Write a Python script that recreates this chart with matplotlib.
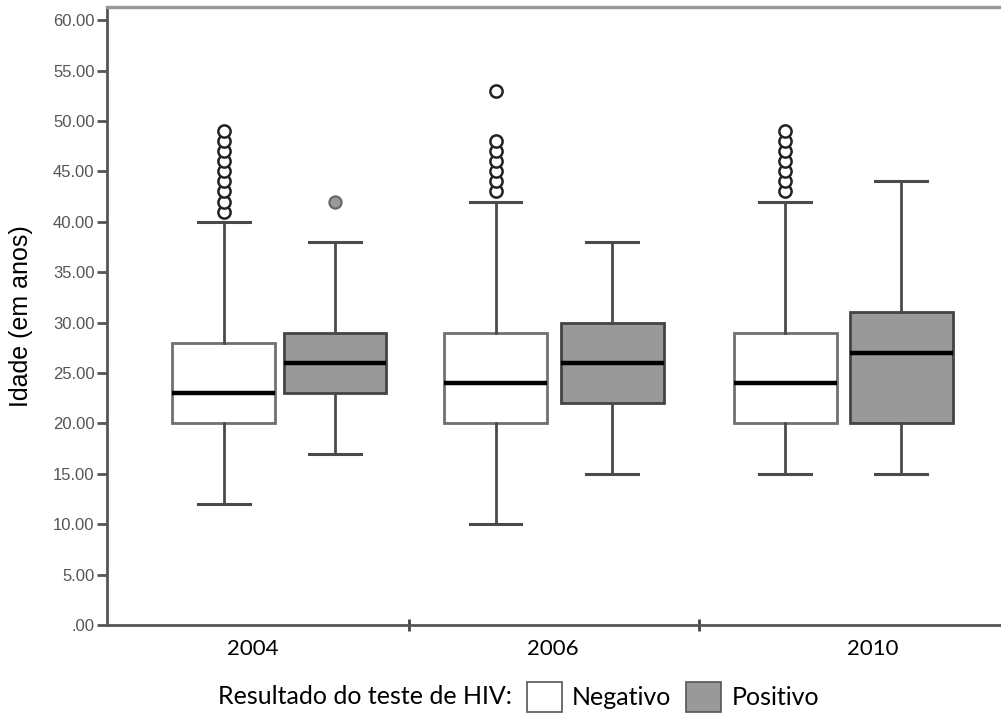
import numpy as np
import matplotlib
matplotlib.use("Agg")
import matplotlib.pyplot as plt
from matplotlib.patches import Patch

# values (age in years)
years = ["2004", "2006", "2010"]
groups = ["Negativo", "Positivo"]

neg_whislo = [12, 10, 15]
neg_q1 = [20, 20, 20]
neg_med = [23, 24, 24]
neg_q3 = [28, 29, 29]
neg_whishi = [40, 42, 42]
neg_fliers = [
    [41, 42, 43, 44, 45, 46, 47, 48, 49],
    [43, 44, 45, 46, 47, 48, 53],
    [43, 44, 45, 46, 47, 48, 49],
]

pos_whislo = [17, 15, 15]
pos_q1 = [23, 22, 20]
pos_med = [26, 26, 27]
pos_q3 = [29, 30, 31]
pos_whishi = [38, 38, 44]
pos_fliers = [[42], [], []]

yticks = np.arange(0, 61, 5)
ytick_labels = [".00"] + ["%.2f" % v for v in yticks[1:]]

# layout (category units, separators at 0.5 / 1.5)
neg_pos = [-0.138, 0.799, 1.797]
pos_pos = [0.245, 1.200, 2.197]
label_pos = [-0.04, 0.995, 2.10]
box_w = 0.355

fig = plt.figure(figsize=(10.01, 7.25), dpi=100)
ax = fig.add_axes([107 / 1001, 100 / 725, 1 - 107 / 1001, 618 / 725])


def stats(lo, q1, med, q3, hi, fl):
    return [dict(whislo=lo[i], q1=q1[i], med=med[i], q3=q3[i], whishi=hi[i],
                 fliers=fl[i]) for i in range(len(lo))]


edge = "#4a4a4a"
ax.bxp(stats(neg_whislo, neg_q1, neg_med, neg_q3, neg_whishi, neg_fliers),
       positions=neg_pos, widths=box_w, patch_artist=True, showfliers=True,
       boxprops=dict(facecolor="white", edgecolor="#707070", linewidth=2),
       medianprops=dict(color="black", linewidth=3.2),
       whiskerprops=dict(color=edge, linewidth=2),
       capprops=dict(color=edge, linewidth=2.2),
       flierprops=dict(marker="o", markersize=8.8, markerfacecolor="white",
                       markeredgecolor="#222222", markeredgewidth=1.8),
       capwidths=box_w / 2)
ax.bxp(stats(pos_whislo, pos_q1, pos_med, pos_q3, pos_whishi, pos_fliers),
       positions=pos_pos, widths=box_w, patch_artist=True, showfliers=True,
       boxprops=dict(facecolor="#999999", edgecolor="#444444", linewidth=2),
       medianprops=dict(color="black", linewidth=3.2),
       whiskerprops=dict(color=edge, linewidth=2),
       capprops=dict(color=edge, linewidth=2.2),
       flierprops=dict(marker="o", markersize=8.8, markerfacecolor="#999999",
                       markeredgecolor="#666666", markeredgewidth=1.5),
       capwidths=box_w / 2)

ax.set_xlim(-0.541, 2.541)
ax.set_ylim(0, 61.3)

ax.set_yticks(yticks)
ax.set_yticklabels(ytick_labels, fontfamily="Liberation Sans", fontsize=12,
                   color="#555555")
ax.tick_params(axis="y", length=7, width=2, color="#555555", pad=2)

ax.set_xticks(label_pos)
ax.set_xticklabels(years, fontfamily="Lato", fontsize=16)
ax.tick_params(axis="x", length=0, pad=10)
ax.set_xticks([0.5, 1.5], minor=True)
ax.tick_params(axis="x", which="minor", length=9, width=2, color="#444444",
               direction="inout")

ax.set_ylabel("Idade (em anos)", fontfamily="Liberation Sans", fontsize=18,
              labelpad=14)

for s in ["left", "bottom"]:
    ax.spines[s].set_color("#555555")
    ax.spines[s].set_linewidth(2)
ax.spines["top"].set_color("#999999")
ax.spines["top"].set_linewidth(2.5)
ax.spines["right"].set_visible(False)

fig.text(218 / 1001, 1 - 697 / 725, "Resultado do teste de HIV:",
         fontfamily="Lato", fontsize=18, va="center", ha="left")
handles = [Patch(facecolor="white", edgecolor="#555555", linewidth=1.2),
           Patch(facecolor="#999999", edgecolor="#555555", linewidth=1.2)]
fig.legend(handles, groups, loc="center left",
           bbox_to_anchor=(527 / 1001, 1 - 697 / 725), ncol=2, frameon=False,
           prop=dict(family="Lato", size=18), handlelength=1.4,
           handleheight=1.5, handletextpad=0.4, columnspacing=0.6,
           borderpad=0, borderaxespad=0)

fig.savefig("out.png", dpi=100)
